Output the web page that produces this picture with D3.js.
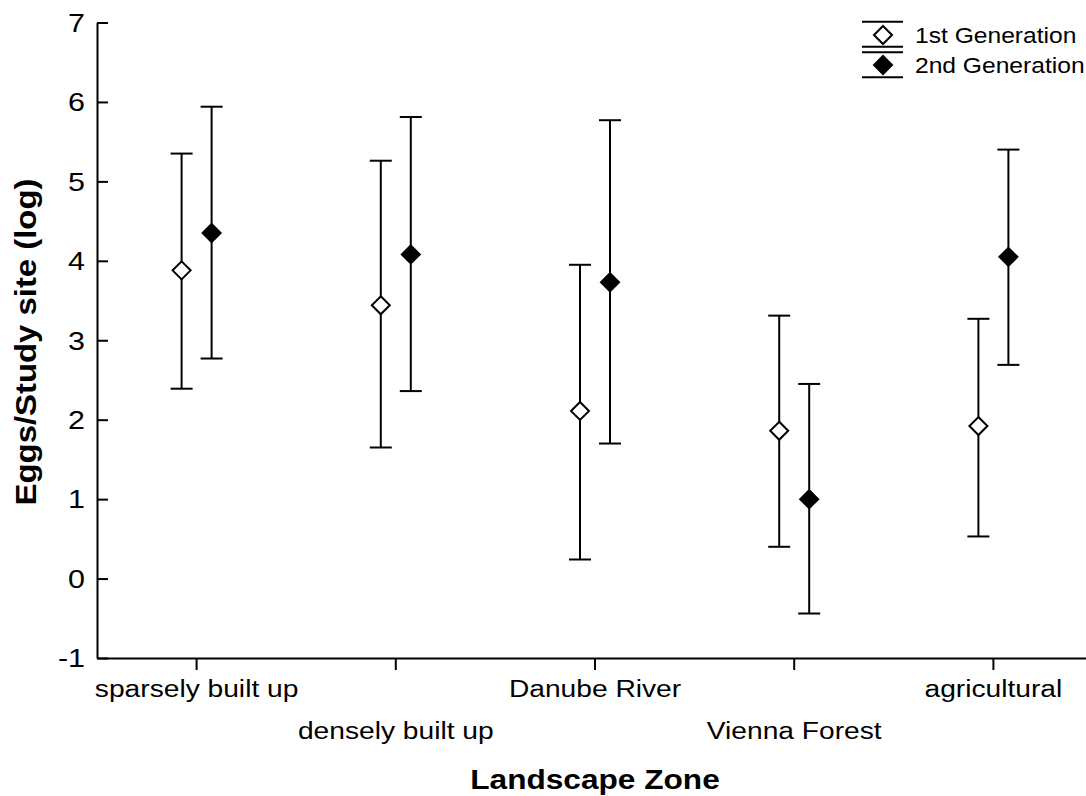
<!DOCTYPE html>
<html>
<head>
<meta charset="utf-8">
<script src="https://cdn.jsdelivr.net/npm/d3@7"></script>
<style>
  html, body { margin: 0; padding: 0; background: #fff; }
  svg { display: block; }
  text { font-family: "Liberation Sans", Arial, Helvetica, sans-serif; fill: #000; }
</style>
</head>
<body>
<svg id="chart" width="1086" height="796"></svg>
<script>
// Egg counts per study site (log scale), mean with error range, by landscape zone
const categories = ["sparsely built up", "densely built up", "Danube River", "Vienna Forest", "agricultural"];

const gen1Mean = [3.88, 3.44, 2.11, 1.86, 1.92];
const gen1Low  = [2.39, 1.65, 0.24, 0.40, 0.53];
const gen1High = [5.35, 5.26, 3.95, 3.31, 3.27];

const gen2Mean = [4.35, 4.08, 3.73, 1.00, 4.05];
const gen2Low  = [2.77, 2.36, 1.70, -0.44, 2.69];
const gen2High = [5.94, 5.81, 5.77, 2.45, 5.40];

const yTicks = [-1, 0, 1, 2, 3, 4, 5, 6, 7];
const seriesNames = ["1st Generation", "2nd Generation"];

const svg = d3.select("#chart");
const STRETCH = 1.15;   // wide lettering
const plot = { left: 97, right: 1093, top: 22.5, bottom: 658 };

const x = d3.scaleBand().domain(categories).range([plot.left, plot.right]).padding(0);
const y = d3.scaleLinear().domain([-1, 7]).range([plot.bottom, plot.top]);

// helper for horizontally stretched text
function label(g, txt, px, py, opts) {
  const o = Object.assign({ size: 24.5, anchor: "middle", weight: "normal", rotate: 0, baseline: "auto" }, opts);
  return g.append("text")
    .attr("transform", `translate(${px},${py}) rotate(${o.rotate}) scale(${STRETCH},1)`)
    .attr("text-anchor", o.anchor)
    .attr("dominant-baseline", o.baseline)
    .style("font-size", o.size + "px")
    .style("font-weight", o.weight)
    .text(txt);
}

// axes
const yAxis = d3.axisLeft(y).tickValues(yTicks).tickSizeInner(-11).tickSizeOuter(0).tickFormat("");
const xAxis = d3.axisBottom(x).tickSizeInner(12).tickSizeOuter(0).tickFormat("");

const gy = svg.append("g").attr("transform", `translate(${plot.left},0)`).call(yAxis);
const gx = svg.append("g").attr("transform", `translate(0,${plot.bottom})`).call(xAxis);
[gx, gy].forEach(g => {
  g.select(".domain").attr("stroke", "#000").attr("stroke-width", 2);
  g.selectAll(".tick line").attr("stroke", "#000").attr("stroke-width", 2);
});

// y tick labels
const labels = svg.append("g");
yTicks.forEach(t => label(labels, String(t), 85, y(t), { size: 26.5, anchor: "end", baseline: "central" }));

// category labels, staggered in two rows
categories.forEach((c, i) => {
  const cx = x(c) + x.bandwidth() / 2;
  label(labels, c, cx, i % 2 === 0 ? 697 : 738.5, { size: 24.5 });
});

// axis titles
label(labels, "Landscape Zone", (plot.left + plot.right) / 2, 789, { size: 27.5, weight: "bold" });
label(labels, "Eggs/Study site (log)", 36, 342, { size: 28.6, weight: "bold", rotate: -90 });

// series
const offset = 15, capHalf = 11, dHalf = 9;
const diamond = s => `M0,${-s}L${s},0L0,${s}L${-s},0Z`;

const series = [
  { name: seriesNames[0], mean: gen1Mean, low: gen1Low, high: gen1High, dx: -offset, fill: "#fff" },
  { name: seriesNames[1], mean: gen2Mean, low: gen2Low, high: gen2High, dx: offset, fill: "#000" }
];

series.forEach(s => {
  const g = svg.append("g");
  const rows = categories.map((c, i) => ({ cx: x(c) + x.bandwidth() / 2 + s.dx, m: s.mean[i], lo: s.low[i], hi: s.high[i] }));
  g.selectAll("line.bar").data(rows).join("line")
    .attr("x1", d => d.cx).attr("x2", d => d.cx)
    .attr("y1", d => y(d.lo)).attr("y2", d => y(d.hi))
    .attr("stroke", "#000").attr("stroke-width", 2);
  ["lo", "hi"].forEach(k => {
    g.selectAll("line." + k).data(rows).join("line")
      .attr("x1", d => d.cx - capHalf).attr("x2", d => d.cx + capHalf)
      .attr("y1", d => y(d[k])).attr("y2", d => y(d[k]))
      .attr("stroke", "#000").attr("stroke-width", 2);
  });
  g.selectAll("path").data(rows).join("path")
    .attr("d", diamond(dHalf))
    .attr("transform", d => `translate(${d.cx},${y(d.m)})`)
    .attr("fill", s.fill).attr("stroke", "#000").attr("stroke-width", 2);
});

// legend
const lg = svg.append("g");
const legendRows = [
  { top: 21.7, bottom: 46.7, cy: 35, fill: "#fff", text: seriesNames[0], base: 42.5 },
  { top: 52.3, bottom: 77.3, cy: 65, fill: "#000", text: seriesNames[1], base: 72.5 }
];
legendRows.forEach(r => {
  [r.top, r.bottom].forEach(ly => lg.append("line")
    .attr("x1", 862).attr("x2", 903).attr("y1", ly).attr("y2", ly)
    .attr("stroke", "#000").attr("stroke-width", 2));
  lg.append("path").attr("d", diamond(dHalf))
    .attr("transform", `translate(883,${r.cy})`)
    .attr("fill", r.fill).attr("stroke", "#000").attr("stroke-width", 2);
  label(lg, r.text, 915, r.base, { size: 21.4, anchor: "start" });
});
</script>
</body>
</html>
